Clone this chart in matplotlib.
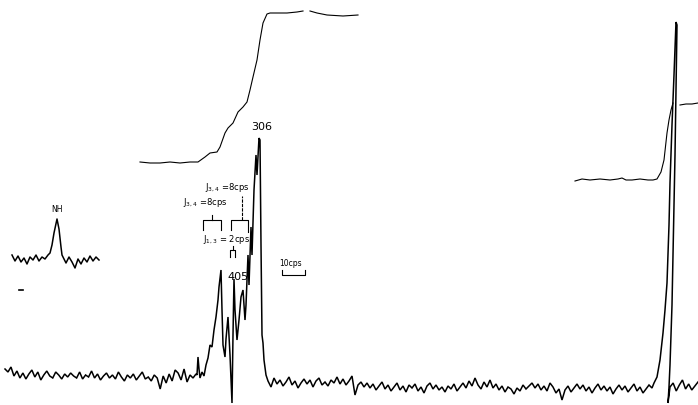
import numpy as np
import matplotlib
matplotlib.use("Agg")
import matplotlib.pyplot as plt

# Spectre RMN : x = position le long de l'enregistrement, s = intensite du signal
############################### Donnees #################################
# ligne de base a gauche (bruit)
baseA_x0, baseA_x1 = 5, 196
baseA_s = [36, 33, 38, 29, 34, 27, 32, 26, 31, 35,
           28, 33, 25, 30, 34, 29, 27, 33, 30, 26,
           31, 28, 32, 29, 27, 33, 26, 30, 28, 34,
           27, 31, 25, 29, 32, 27, 30, 26, 33, 28,
           24, 30, 27, 31, 25, 29, 33, 26, 28, 24,
           30, 27, 16, 29, 22, 31, 24, 35, 32, 25,
           36, 23, 30, 27, 31]

# multiplet (405 ... 306)
multi_x = [197, 198, 199, 200, 202, 204, 206, 208, 210, 212, 214, 216, 218, 219,
           220, 221, 222, 223, 225, 226, 228, 230, 231, 232, 233, 234, 235, 237,
           239, 241, 243, 245, 246, 248, 249, 251, 252, 254, 256, 257, 259, 260,
           261, 262, 263, 264, 266]
multi_s = [30, 48, 36, 27, 33, 29, 40, 47, 60, 58, 75, 88, 105, 118,
           127, 135, 95, 60, 48, 66, 88, 50, 25, 2, 70, 126, 95, 65,
           85, 108, 115, 85, 100, 150, 120, 178, 150, 215, 250, 230, 267, 265,
           160, 70, 62, 45, 30]

# ligne de base au milieu
baseB_x0, baseB_x1 = 268, 652
baseB_s = [24, 18, 27, 21, 25, 19, 23, 28, 20, 24, 17, 22, 26, 21, 25, 18, 24, 27, 20, 23,
           19, 25, 22, 28, 21, 26, 20, 24, 29,
           10, 20, 23, 18, 22, 17, 21, 15, 19, 23, 16, 20, 14, 18, 22, 15, 19, 13, 20, 17,
           21, 14, 18, 12, 19, 22, 16, 20, 15, 18,
           13, 19, 16, 21, 14, 18, 22, 17, 24, 19, 27, 20, 16, 23, 18, 25, 17, 21, 15, 19,
           13, 18, 16, 11, 17, 14, 20, 16, 19, 22,
           17, 21, 15, 19, 14, 22, 18, 12, 16, 5, 15, 19, 13, 17, 21, 16, 20, 14, 18, 12,
           17, 21, 15, 19, 14, 18, 11, 16, 20, 15,
           19, 13, 17, 21, 14, 18, 12, 16, 20, 17]

# grand pic a droite
pic_x = [654, 657, 660, 663, 665, 667, 669, 670, 672, 674, 676, 677, 675, 673, 672, 670, 669, 668]
pic_s = [22, 28, 45, 72, 95, 122, 180, 222, 280, 330, 383, 380, 250, 150, 100, 40, 18, 2]

baseC_x0, baseC_x1 = 670, 698
baseC_s = [18, 22, 14, 20, 25, 16, 21, 15, 19, 23]

# pic NH (agrandi, decale)
nh_x = [12, 15, 18, 21, 24, 27, 30, 33, 36, 39, 42, 45, 48,
        50, 52, 54, 57, 59, 61, 62, 64,
        66, 69, 72, 75, 78, 81, 84, 87, 90, 93, 96, 99]
nh_s = [150, 144, 149, 143, 147, 141, 148, 145, 150, 144, 148, 146, 150,
        152, 160, 172, 186, 176, 158, 150, 146,
        142, 148, 143, 137, 146, 141, 147, 143, 149, 144, 148, 145]

# courbes d'integration
int1a_x = [140, 150, 160, 170, 180, 190, 198, 205, 210, 217, 220, 225, 228, 233, 238,
           243, 247, 250, 253, 257, 260, 263, 267, 270, 287, 297, 303]
int1a_s = [243, 242, 242, 243, 242, 243, 243, 248, 252, 253, 258, 272, 277, 282, 293,
           298, 303, 315, 328, 345, 365, 382, 391, 392, 392, 393, 394]
int1b_x = [310, 317, 327, 343, 358]
int1b_s = [394, 392, 390, 389, 390]

int2a_x = [575, 582, 590, 600, 610, 618, 622, 626, 632, 640, 648, 653, 657, 661, 664, 667, 669, 671, 673]
int2a_s = [224, 226, 225, 226, 225, 226, 227, 225, 225, 226, 225, 225, 226, 233, 245, 272, 285, 295, 302]
int2b_x = [680, 686, 692, 698]
int2b_s = [300, 301, 301, 302]

#########################################################################

fig = plt.figure(figsize=(6.98, 4.05), dpi=100)
ax = fig.add_axes([0, 0, 1, 1])
ax.set_xlim(0, 698)
ax.set_ylim(0, 405)
ax.axis('off')

# trace principale
x_main = np.concatenate([np.linspace(baseA_x0, baseA_x1, len(baseA_s)), multi_x,
                         np.linspace(baseB_x0, baseB_x1, len(baseB_s)), pic_x,
                         np.linspace(baseC_x0, baseC_x1, len(baseC_s))])
s_main = np.concatenate([baseA_s, multi_s, baseB_s, pic_s, baseC_s])
ax.plot(x_main, s_main, color='black', lw=1.1, solid_joinstyle='miter')

ax.plot(nh_x, nh_s, color='black', lw=1.1)

for xx, ss in [(int1a_x, int1a_s), (int1b_x, int1b_s), (int2a_x, int2a_s), (int2b_x, int2b_s)]:
    ax.plot(xx, ss, color='black', lw=0.8)

# petit trait a gauche
ax.plot([19, 23], [115, 115], color='black', lw=1.2)

# crochets des constantes de couplage
k = dict(color='black', lw=0.8)
ax.plot([203, 203, 221, 221], [175, 185, 185, 175], **k)
ax.plot([212, 212], [185, 190], **k)
ax.plot([231, 231, 248, 248], [175, 185, 185, 173], **k)
ax.plot([242, 242], [185, 209], color='black', lw=0.8, ls=(0, (3, 1)))
ax.plot([230, 230, 235, 235], [148, 155, 155, 148], **k)
ax.plot([233, 233], [155, 159], **k)
# echelle 10 cps
ax.plot([282, 282, 305, 305], [135, 130, 130, 135], **k)

# textes
ax.text(262, 278, '306', fontsize=8, ha='center', va='center')
ax.text(227, 128, '405', fontsize=8, ha='left', va='center')
ax.text(57, 195, 'NH', fontsize=5.5, ha='center', va='center')
ax.text(205, 217, r'$\mathrm{J}_{3,4}$ =8cps', fontsize=6, ha='left', va='center')
ax.text(183, 202, r'$\mathrm{J}_{3,4}$ =8cps', fontsize=6, ha='left', va='center')
ax.text(203, 165, r'$\mathrm{J}_{1,3}$ = 2cps', fontsize=6, ha='left', va='center')
ax.text(279, 142, '10cps', fontsize=5.5, ha='left', va='center')

fig.savefig('out.png', dpi=100)
